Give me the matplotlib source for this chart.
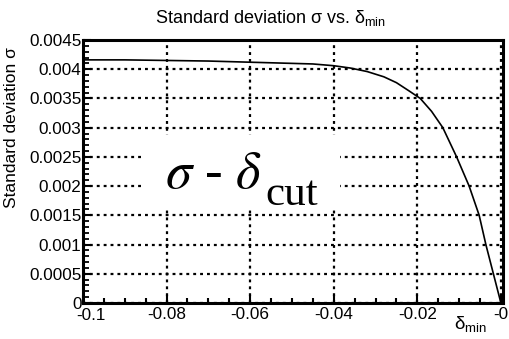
import numpy as np
import matplotlib
matplotlib.use("Agg")
import matplotlib.pyplot as plt
from matplotlib.ticker import MultipleLocator, FuncFormatter
from matplotlib.patches import Rectangle

plt.rcParams['font.family'] = ['Liberation Sans', 'DejaVu Sans']
plt.rcParams['mathtext.fontset'] = 'custom'
plt.rcParams['mathtext.rm'] = 'Liberation Sans'
plt.rcParams['mathtext.it'] = 'Liberation Sans:italic'

# sigma vs delta_min
delta_min = [-0.1, -0.09, -0.08, -0.07, -0.06, -0.05, -0.045, -0.04, -0.036,
             -0.032, -0.028, -0.025, -0.022, -0.0193, -0.0166, -0.0139,
             -0.0106, -0.0076, -0.0052, -0.0036, -0.0018, 0.0]
sigma = [0.00416, 0.00416, 0.00415, 0.00414, 0.00412, 0.00410, 0.00409,
         0.00406, 0.00402, 0.00396, 0.00387, 0.00377, 0.00363, 0.00350,
         0.00328, 0.00300, 0.00250, 0.00200, 0.00150, 0.00100, 0.00050, 0.0]
x_first_label = -0.1

fig = plt.figure(figsize=(5.1, 3.39), dpi=100)
ax = fig.add_axes([83 / 510, 36 / 339, 420 / 510, 263 / 339])

ax.plot(delta_min, sigma, color='black', lw=1.2, zorder=3)

ax.set_xlim(-0.1, 0.0005)
ax.set_ylim(0, 0.0045)

ax.xaxis.set_major_locator(MultipleLocator(0.02))
ax.xaxis.set_minor_locator(MultipleLocator(0.005))
ax.yaxis.set_major_locator(MultipleLocator(0.0005))
ax.yaxis.set_minor_locator(MultipleLocator(0.0001))
fmt = FuncFormatter(lambda v, p: '%g' % round(v, 6))
# first x label is drawn by hand below (ROOT shifts it right)
xfmt = FuncFormatter(lambda v, p: '' if abs(v - x_first_label) < 1e-9 else '%g' % round(v, 6))
ax.xaxis.set_major_formatter(xfmt)
ax.yaxis.set_major_formatter(fmt)

ax.tick_params(which='both', direction='in', top=False, right=False,
               labelsize=12.3, colors='black')
ax.tick_params(axis='x', which='major', length=6, width=1.5, pad=3)
ax.tick_params(axis='x', which='minor', length=3.5, width=1.5)
ax.tick_params(axis='y', which='major', length=6, width=1.5, pad=1)
ax.tick_params(axis='y', which='minor', length=4, width=1.3)

for s in ax.spines.values():
    s.set_linewidth(2.2)

ax.set_axisbelow(True)
ax.grid(True, which='major', color='black', lw=1.6, linestyle=(0, (1.3, 1.8)))

ax.annotate('%g' % x_first_label, xy=(x_first_label, 0), xytext=(8, -5),
            textcoords='offset pixels', ha='center', va='top', fontsize=12.3,
            annotation_clip=False)

# white box behind the annotation
ax.add_patch(Rectangle((0.143, 0.354), 0.47, 0.285, transform=ax.transAxes,
                       facecolor='white', edgecolor='none', zorder=1))

t1 = ax.text(0.195, 0.437, r'$\sigma$ - $\delta$', transform=ax.transAxes,
             fontsize=38, family='Liberation Serif', math_fontfamily='stix',
             ha='left', va='baseline', zorder=4)
ax.annotate('cut', xy=(1, 0), xycoords=t1, xytext=(4, -6),
            textcoords='offset pixels', fontsize=31, family='Liberation Serif',
            ha='left', va='baseline', zorder=4)

fig.text(270 / 510, 1 - 18 / 339, r'Standard deviation σ vs. $\mathrm{\delta}_{\mathrm{min}}$',
         ha='center', va='center', fontsize=13)
fig.text(12 / 510, 1 - 128 / 339, 'Standard deviation σ', rotation=90,
         ha='center', va='center', fontsize=12.5)
fig.text(470 / 510, 1 - 324 / 339, r'$\mathrm{\delta}_{\mathrm{min}}$',
         ha='center', va='center', fontsize=13.5)

fig.savefig('out.png', dpi=100)
